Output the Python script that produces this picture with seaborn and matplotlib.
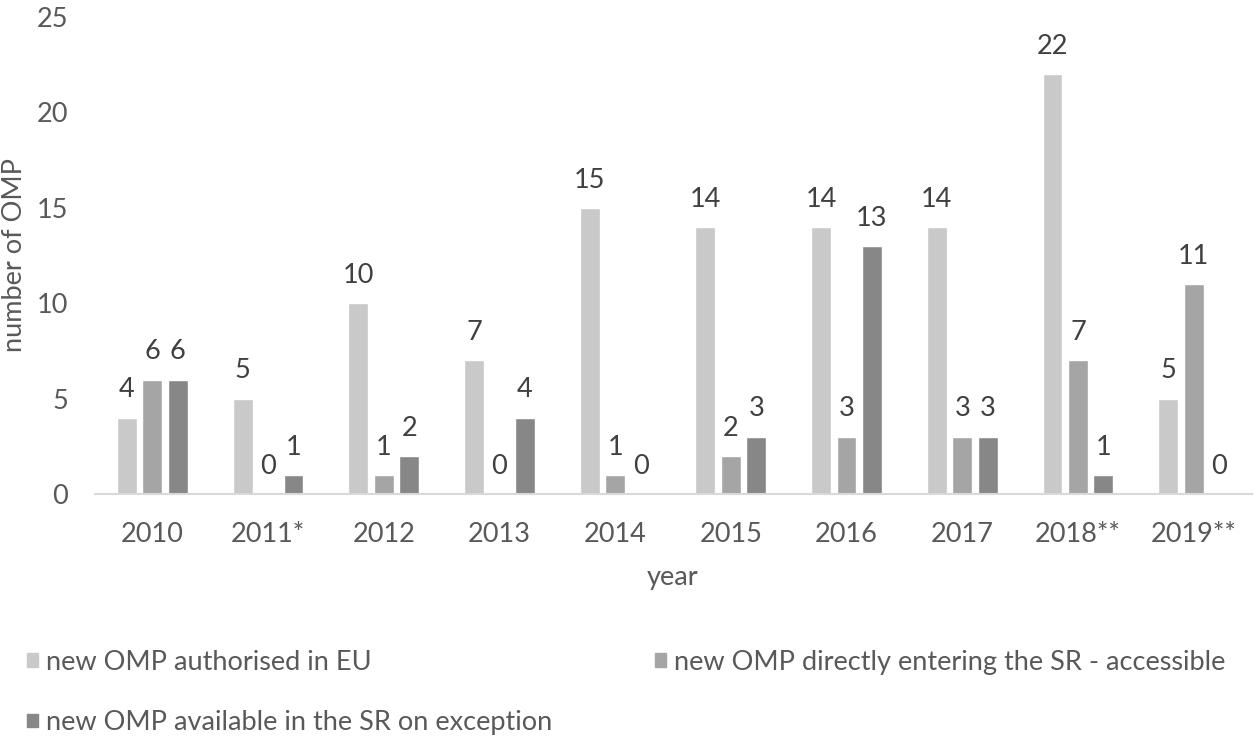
import seaborn as sns
import pandas as pd
import matplotlib.pyplot as plt

years = ['2010', '2011*', '2012', '2013', '2014', '2015', '2016', '2017', '2018**', '2019**']
authorised = [4, 5, 10, 7, 15, 14, 14, 14, 22, 5]
direct = [6, 0, 1, 0, 1, 2, 3, 3, 7, 11]
exception = [6, 1, 2, 4, 0, 3, 13, 3, 1, 0]
series = ['new OMP authorised in EU',
          'new OMP directly entering the SR - accessible',
          'new OMP available in the SR on exception']
colors = ['#c9c9c9', '#a5a5a5', '#878787']

rows = []
for s, vals in zip(series, [authorised, direct, exception]):
    for yr, v in zip(years, vals):
        rows.append({'year': yr, 'value': v, 'series': s})
df = pd.DataFrame(rows)

sns.set_style('white')
plt.rcParams['font.family'] = ['Lato', 'DejaVu Sans']
txt = '#404040'
fs = 19.5

fig = plt.figure(figsize=(12.55, 7.37), dpi=100)
ax = fig.add_axes([94.5 / 1255, 243 / 737, 1157 / 1255, 477 / 737])
sns.barplot(data=df, x='year', y='value', hue='series', palette=colors,
            width=0.66, gap=0.22, ax=ax, legend=False, saturation=1)

for c in ax.containers:
    ax.bar_label(c, padding=11, fontsize=fs, color=txt)

ax.set_ylim(0, 25)
ax.set_xlim(-0.5, 9.5)
ax.set_yticks([0, 5, 10, 15, 20, 25])
ax.tick_params(axis='both', length=0, labelsize=fs, labelcolor='#595959')
ax.tick_params(axis='y', pad=19)
ax.tick_params(axis='x', pad=20)
for sp in ['top', 'right', 'left']:
    ax.spines[sp].set_visible(False)
ax.spines['bottom'].set_color('#d9d9d9')
ax.spines['bottom'].set_linewidth(1.5)
ax.set_xlabel('year', fontsize=fs, color='#595959', labelpad=13)
ax.set_ylabel('number of OMP', fontsize=fs, color='#595959', labelpad=7)

handles = [plt.Rectangle((0, 0), 1, 1, color=c) for c in colors]
order = [0, 2, 1]
fig.legend([handles[i] for i in order], [series[i] for i in order],
           loc='upper left', bbox_to_anchor=(27 / 1255, 1 - 650 / 737), ncol=2,
           frameon=False, fontsize=fs, labelcolor='#595959', borderpad=0,
           borderaxespad=0, handlelength=0.4, handleheight=0.4, handletextpad=0.3,
           labelspacing=1.3, columnspacing=3.8)

fig.savefig('out.png', dpi=100)
